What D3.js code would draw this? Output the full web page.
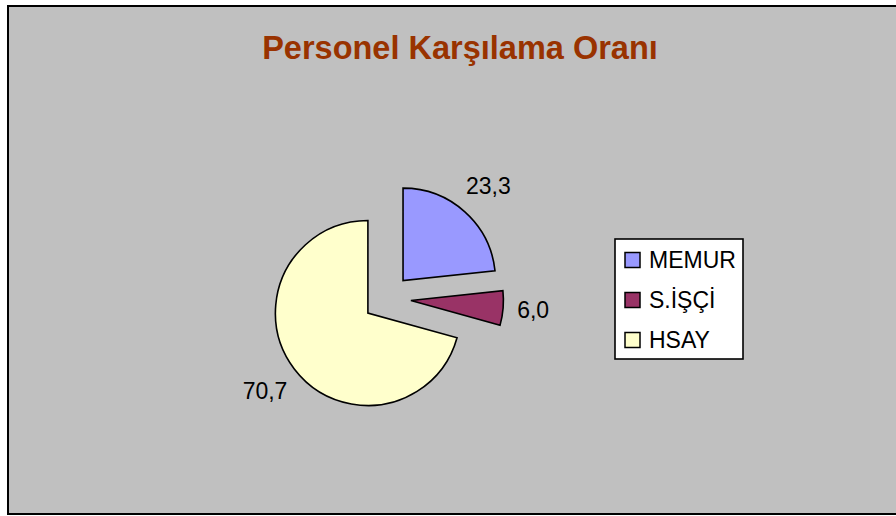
<!DOCTYPE html>
<html>
<head>
<meta charset="utf-8">
<script src="https://cdn.jsdelivr.net/npm/d3@7"></script>
<style>
  html, body { margin: 0; padding: 0; background: #fff; }
  svg { display: block; font-family: Arial, "Liberation Sans", sans-serif; }
</style>
</head>
<body>
<svg id="grafik"></svg>
<script>
const WIDTH = 896,
    HEIGHT = 516;

// veriler
const kategoriler = ["MEMUR", "S.İŞÇİ", "HSAY"];
const degerler = [23.3, 6.0, 70.7];
const renkler = ["#9999ff", "#993366", "#ffffcc"];
const baslik = "Personel Karşılama Oranı";

const merkez = { x: 387, y: 298.5 };
const yaricap = 92.5;
const patlama = 24;
const etiketMesafe = 130;

const trFormat = d3.formatLocale({ decimal: ",", thousands: ".", grouping: [3], currency: ["", ""] }).format(".1f");

const svg = d3.select("#grafik")
    .attr("width", WIDTH)
    .attr("height", HEIGHT);

// grafik alanı
svg.append("rect")
    .attr("x", 8)
    .attr("y", 6)
    .attr("width", 900)
    .attr("height", 508)
    .attr("fill", "#c0c0c0")
    .attr("stroke", "#000")
    .attr("stroke-width", 2);

svg.append("text")
    .attr("x", 460)
    .attr("y", 59)
    .attr("text-anchor", "middle")
    .attr("font-size", 32.5)
    .attr("font-weight", "bold")
    .attr("fill", "#993300")
    .text(baslik);

const veri = kategoriler.map((k, i) => ({ kategori: k, deger: degerler[i], renk: renkler[i] }));

const pasta = d3.pie()
    .sort(null)
    .value(d => d.deger);

const arc = d3.arc()
    .innerRadius(0)
    .outerRadius(yaricap);

const dilimler = pasta(veri);

const yon = d => {
    const a = (d.startAngle + d.endAngle) / 2;
    return [Math.sin(a), -Math.cos(a)];
};

const pastaGrubu = svg.append("g")
    .attr("transform", `translate(${merkez.x} ${merkez.y})`);

pastaGrubu.selectAll("path")
    .data(dilimler)
    .join("path")
    .attr("transform", d => {
        const [dx, dy] = yon(d);
        return `translate(${dx * patlama} ${dy * patlama})`;
    })
    .attr("d", arc)
    .attr("fill", d => d.data.renk)
    .attr("stroke", "#000")
    .attr("stroke-width", 1.6)
    .attr("stroke-linejoin", "miter");

// veri etiketleri
const etiketler = pastaGrubu.selectAll("text.etiket")
    .data(dilimler)
    .join("text")
    .attr("class", "etiket")
    .attr("font-size", 23)
    .attr("fill", "#000")
    .attr("text-anchor", "middle")
    .attr("dominant-baseline", "central")
    .text(d => trFormat(d.data.deger));

etiketler.each(function (d) {
    const [dx, dy] = yon(d);
    const yariGenislik = this.getComputedTextLength() / 2;
    const yariYukseklik = 9;
    const r = etiketMesafe + Math.abs(dx) * yariGenislik + Math.abs(dy) * yariYukseklik;
    d3.select(this)
        .attr("x", dx * r)
        .attr("y", dy * r);
});

// lejant
const lejant = svg.append("g")
    .attr("transform", "translate(615 239)");

lejant.append("rect")
    .attr("width", 128)
    .attr("height", 120)
    .attr("fill", "#fff")
    .attr("stroke", "#000")
    .attr("stroke-width", 1.6);

const lejantOge = lejant.selectAll("g.oge")
    .data(veri)
    .join("g")
    .attr("class", "oge")
    .attr("transform", (d, i) => `translate(10 ${21 + i * 40})`);

lejantOge.append("rect")
    .attr("x", 0)
    .attr("y", -7.5)
    .attr("width", 15)
    .attr("height", 15)
    .attr("fill", d => d.renk)
    .attr("stroke", "#000")
    .attr("stroke-width", 1.5);

lejantOge.append("text")
    .attr("x", 24)
    .attr("y", 0)
    .attr("dominant-baseline", "central")
    .attr("font-size", 23)
    .attr("fill", "#000")
    .text(d => d.kategori);
</script>
</body>
</html>
